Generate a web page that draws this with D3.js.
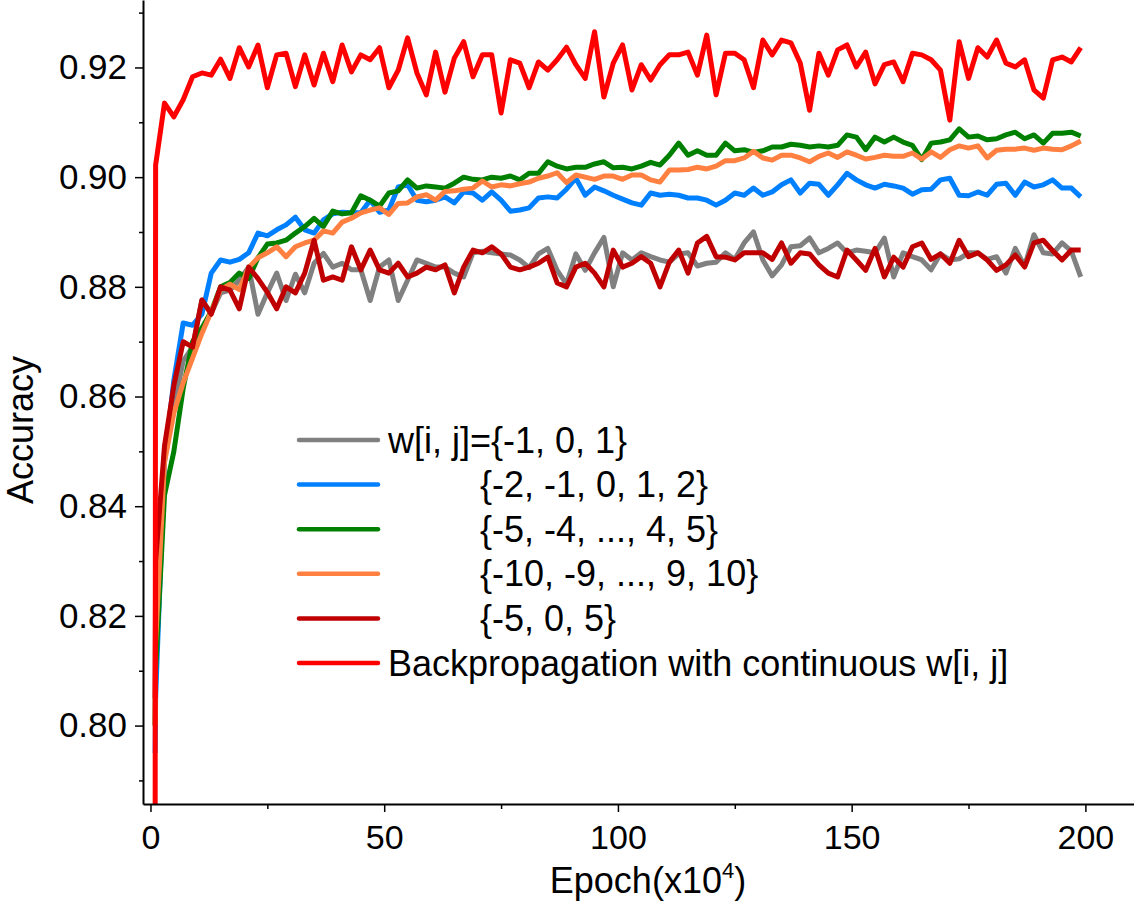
<!DOCTYPE html>
<html>
<head>
<meta charset="utf-8">
<script src="https://cdn.jsdelivr.net/npm/d3@7"></script>
<style>
  body { margin: 0; background: #fff; }
  svg { display: block; font-family: "Liberation Sans", Arial, sans-serif; }
</style>
</head>
<body>
<svg id="chart" width="1134" height="901"></svg>
<script>
// epochs (x10^4) at which accuracy was sampled
const epochs = [1, 1.1,
  3, 5, 7, 9, 11, 13, 15, 17, 19, 21,
  23, 25, 27, 29, 31, 33, 35, 37, 39, 41,
  43, 45, 47, 49, 51, 53, 55, 57, 59, 61,
  63, 65, 67, 69, 71, 73, 75, 77, 79, 81,
  83, 85, 87, 89, 91, 93, 95, 97, 99, 101,
  103, 105, 107, 109, 111, 113, 115, 117, 119, 121,
  123, 125, 127, 129, 131, 133, 135, 137, 139, 141,
  143, 145, 147, 149, 151, 153, 155, 157, 159, 161,
  163, 165, 167, 169, 171, 173, 175, 177, 179, 181,
  183, 185, 187, 189, 191, 193, 195, 197, 199];

const accTernary = [0.800, 0.825,
  .850, .858, .8665, .8690, .8776, .8752, .8789, .8794, .8812, .8836,
  .8750, .8789, .8825, .8775, .8823, .8789, .8843, .8861, .8836, .8843,
  .8831, .8831, .8775, .8836, .8849, .8775, .8812, .8849, .8843, .8836,
  .8836, .8825, .8818, .8862, .8865, .8862, .8860, .8858, .8849, .8835,
  .8860, .8870, .8830, .8805, .8860, .8830, .8862, .8890, .8800, .8862,
  .8849, .8862, .8855, .8849, .8845, .8860, .8862, .8838, .8843, .8845,
  .8862, .8850, .8880, .8900, .8849, .8820, .8840, .8873, .8875, .8889,
  .8862, .8870, .8880, .8862, .8867, .8865, .8862, .8889, .8818, .8862,
  .8855, .8849, .8831, .8860, .8849, .8851, .8862, .8862, .8850, .8855,
  .8825, .8870, .8838, .8895, .8862, .8860, .8880, .8865, .8818];

const accFive = [0.795, 0.805,
  .848, .863, .8734, .8730, .8750, .8825, .8849, .8845, .8850, .8862,
  .8898, .8893, .8904, .8913, .8927, .8904, .8898, .8922, .8933, .8936,
  .8935, .8935, .8958, .8936, .8940, .8982, .8986, .8958, .8955, .8958,
  .8964, .8953, .8973, .8971, .8958, .8973, .8958, .8938, .8940, .8944,
  .8962, .8964, .8962, .8978, .8998, .8967, .8982, .8975, .8967, .8960,
  .8953, .8949, .8971, .8967, .8969, .8967, .8962, .8962, .8958, .8949,
  .8958, .8971, .8967, .8980, .8967, .8973, .8986, .8995, .8971, .8989,
  .8987, .8967, .8986, .9007, .8995, .8986, .8980, .8987, .8984, .8980,
  .8969, .8977, .8978, .8995, .8998, .8967, .8966, .8973, .8967, .8987,
  .8989, .8967, .8991, .8982, .8986, .8995, .8980, .8980, .8964];

const accEleven = [0.800, 0.810,
  .842, .850, .8615, .8700, .8725, .8755, .8800, .8808, .8825, .8815,
  .8853, .8878, .8880, .8885, .8898, .8910, .8925, .8910, .8938, .8933,
  .8935, .8966, .8958, .8947, .8971, .8975, .8995, .8980, .8984, .8982,
  .8980, .8989, .9000, .8996, .8995, .9000, .8998, .9002, .8995, .9007,
  .9007, .9028, .9020, .9015, .9018, .9018, .9024, .9028, .9017, .9018,
  .9015, .9020, .9027, .9022, .9040, .9062, .9040, .9048, .9040, .9040,
  .9062, .9048, .9050, .9045, .9048, .9055, .9055, .9060, .9058, .9055,
  .9057, .9055, .9058, .9077, .9073, .9050, .9073, .9064, .9073, .9064,
  .9058, .9032, .9062, .9064, .9068, .9088, .9073, .9075, .9068, .9070,
  .9077, .9082, .9070, .9077, .9062, .9080, .9080, .9082, .9075];

const accTwentyOne = [0.800, 0.815,
  .848, .857, .8625, .8670, .8715, .8755, .8795, .8805, .8795, .8835,
  .8853, .8862, .8873, .8855, .8873, .8880, .8885, .8902, .8898, .8918,
  .8925, .8935, .8940, .8944, .8932, .8952, .8953, .8964, .8968, .8958,
  .8974, .8975, .8978, .8980, .8993, .8982, .8986, .8984, .8988, .8991,
  .8998, .9002, .9008, .8990, .9004, .9000, .8996, .9002, .9002, .8996,
  .9004, .9004, .8995, .8991, .9013, .9013, .9014, .9018, .9015, .9020,
  .9030, .9030, .9035, .9047, .9035, .9031, .9040, .9040, .9035, .9028,
  .9038, .9044, .9036, .9046, .9040, .9033, .9036, .9040, .9038, .9038,
  .9044, .9033, .9046, .9036, .9050, .9057, .9053, .9057, .9035, .9049,
  .9051, .9051, .9053, .9049, .9053, .9051, .9050, .9057, .9066];

const accSparse = [0.805, 0.830,
  .851, .862, .8700, .8690, .8776, .8750, .8800, .8794, .8760, .8836,
  .8815, .8790, .8760, .8800, .8789, .8825, .8885, .8812, .8818, .8812,
  .8873, .8831, .8867, .8831, .8825, .8843, .8818, .8825, .8836, .8831,
  .8840, .8789, .8836, .8867, .8862, .8873, .8860, .8836, .8831, .8836,
  .8843, .8854, .8807, .8800, .8836, .8843, .8825, .8800, .8867, .8836,
  .8843, .8855, .8843, .8800, .8845, .8867, .8825, .8880, .8892, .8855,
  .8854, .8849, .8862, .8862, .8862, .8850, .8880, .8843, .8862, .8860,
  .8840, .8825, .8818, .8867, .8849, .8830, .8870, .8818, .8854, .8836,
  .8873, .8880, .8850, .8860, .8843, .8885, .8855, .8862, .8849, .8830,
  .8840, .8858, .8836, .8880, .8885, .8866, .8849, .8867, .8867];

const accBackprop = [0.780, 0.9022,
  .9135, .9110, .9141, .9183, .9190, .9186, .9215, .9180, .9236, .9201,
  .9241, .9163, .9223, .9226, .9165, .9223, .9168, .9226, .9174, .9241,
  .9192, .9223, .9214, .9236, .9163, .9195, .9254, .9190, .9150, .9228,
  .9155, .9217, .9247, .9183, .9223, .9223, .9117, .9214, .9208, .9163,
  .9210, .9195, .9214, .9237, .9205, .9180, .9265, .9146, .9208, .9241,
  .9159, .9205, .9177, .9205, .9223, .9223, .9228, .9186, .9259, .9150,
  .9226, .9226, .9214, .9163, .9250, .9223, .9250, .9245, .9208, .9122,
  .9226, .9186, .9232, .9241, .9201, .9228, .9170, .9205, .9210, .9174,
  .9226, .9223, .9214, .9195, .9104, .9247, .9180, .9236, .9219, .9250,
  .9208, .9201, .9214, .9159, .9144, .9214, .9219, .9210, .9236];

const seriesNames = ["w[i, j]={-1, 0, 1}", "{-2, -1, 0, 1, 2}", "{-5, -4, ..., 4, 5}",
                     "{-10, -9, ..., 9, 10}", "{-5, 0, 5}", "Backpropagation with continuous w[i, j]"];
const seriesValues = [accTernary, accFive, accEleven, accTwentyOne, accSparse, accBackprop];
const seriesColors = ["#808080", "#0080ff", "#008000", "#ff8040", "#c00000", "#ff0000"];
const legendIndent = [0, 1, 1, 1, 1, 0];

const yMajor = [0.80, 0.82, 0.84, 0.86, 0.88, 0.90, 0.92];
const yMinor = [0.79, 0.81, 0.83, 0.85, 0.87, 0.89, 0.91, 0.93];
const xMajor = [0, 50, 100, 150, 200];
const xMinor = [25, 75, 125, 175];

const width = 1134, height = 901;
const left = 143, bottom = 804;

const svg = d3.select("#chart");

const x = d3.scaleLinear([-1.6, 210.4], [left, width]);
const y = d3.scaleLinear([0.7857, 0.9323], [bottom, 0]);

svg.append("clipPath").attr("id", "plot")
   .append("rect").attr("x", left).attr("y", 0)
   .attr("width", width - left).attr("height", bottom);

// lines
const line = d3.line().x((d, i) => x(epochs[i])).y(d => y(d));
svg.append("g")
   .attr("clip-path", "url(#plot)")
   .selectAll("path")
   .data(seriesValues)
   .join("path")
     .attr("d", line)
     .attr("fill", "none")
     .attr("stroke", (d, i) => seriesColors[i])
     .attr("stroke-width", 5)
     .attr("stroke-linejoin", "round");

// axes
const yAxis = svg.append("g").attr("transform", `translate(${left},0)`)
   .call(d3.axisLeft(y).tickValues(yMajor).tickFormat(d3.format(".2f")).tickSize(8).tickSizeOuter(0));
svg.append("g").attr("transform", `translate(${left},0)`)
   .call(d3.axisLeft(y).tickValues(yMinor).tickFormat("").tickSize(4).tickSizeOuter(0))
   .call(g => g.select(".domain").remove());
const xAxis = svg.append("g").attr("transform", `translate(0,${bottom})`)
   .call(d3.axisBottom(x).tickValues(xMajor).tickSize(8).tickSizeOuter(0));
svg.append("g").attr("transform", `translate(0,${bottom})`)
   .call(d3.axisBottom(x).tickValues(xMinor).tickFormat("").tickSize(5).tickSizeOuter(0))
   .call(g => g.select(".domain").remove());

svg.selectAll(".domain").attr("stroke-width", 2);
svg.selectAll(".tick line").attr("stroke-width", 1.5);
yAxis.selectAll(".tick text").attr("font-size", 35).attr("x", -16).attr("font-family", null);
xAxis.selectAll(".tick text").attr("font-size", 34).attr("y", 21).attr("font-family", null);

// axis titles
svg.append("text")
   .attr("transform", "translate(33,430) rotate(-90)")
   .attr("text-anchor", "middle")
   .attr("font-size", 36)
   .text("Accuracy");

const xt = svg.append("text")
   .attr("x", 648).attr("y", 893)
   .attr("text-anchor", "middle")
   .attr("font-size", 36);
xt.append("tspan").text("Epoch(x10");
xt.append("tspan").attr("font-size", 22).attr("dy", -15).text("4");
xt.append("tspan").attr("dy", 15).text(")");

// legend
const legend = svg.append("g")
   .selectAll("g")
   .data(seriesNames)
   .join("g")
     .attr("transform", (d, i) => `translate(297,${440 + i * 44.6})`);
legend.append("line")
   .attr("x1", 2).attr("x2", 81)
   .attr("stroke", (d, i) => seriesColors[i])
   .attr("stroke-width", 4.5)
   .attr("stroke-linecap", "round");
legend.append("text")
   .attr("x", (d, i) => legendIndent[i] ? 183 : 91)
   .attr("dy", "0.35em")
   .attr("font-size", 36)
   .text(d => d);
</script>
</body>
</html>
